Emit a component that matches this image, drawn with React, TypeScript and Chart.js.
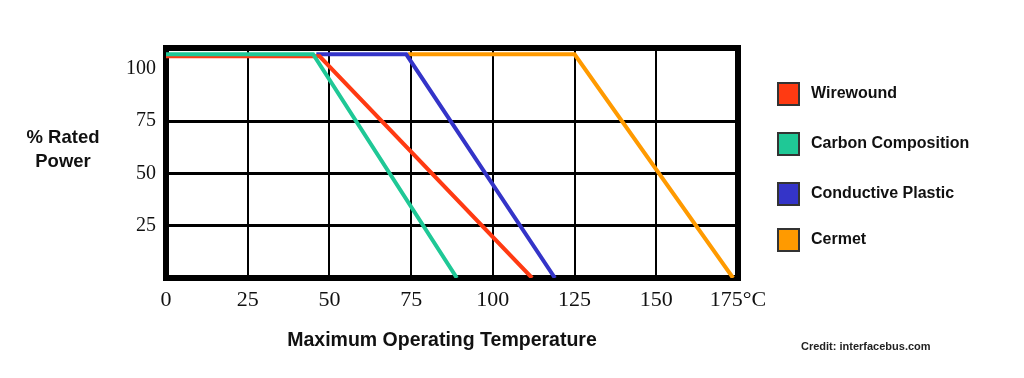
import React, { useEffect, useRef } from "react";
import { Chart, registerables } from "chart.js";

Chart.register(...registerables);

// ---- data ----
const seriesNames = ["Wirewound", "Carbon Composition", "Conductive Plastic", "Cermet"];
const seriesColors = ["#ff3a12", "#1fc896", "#3434c8", "#ff9a00"];

const wirewoundTemp = [0, 47, 112];
const wirewoundPower = [106, 106, 0];
const carbonTemp = [0, 45, 89];
const carbonPower = [107, 107, 0];
const conductiveTemp = [46, 73.5, 119];
const conductivePower = [107, 107, 0];
const cermetTemp = [74, 125, 173.5];
const cermetPower = [107, 107, 0];

const xTicks = [0, 25, 50, 75, 100, 125, 150, 175];
const xTickLabels = ["0", "25", "50", "75", "100", "125", "150", "175°C"];
const yTicks = [25, 50, 75, 100];
const yGridValues = [25, 50, 75];
const xGridValues = [25, 50, 75, 100, 125, 150];

const yTitleLines = ["% Rated", "Power"];
const xTitle = "Maximum Operating Temperature";
const credit = "Credit: interfacebus.com";

const toPoints = (xs: number[], ys: number[]) => xs.map((x, i) => ({ x, y: ys[i] }));

const SANS = '"Liberation Sans", Arial, sans-serif';
const SERIF = '"Liberation Serif", "Times New Roman", serif';

export default function App() {
  const canvasRef = useRef<HTMLCanvasElement | null>(null);

  useEffect(() => {
    if (!canvasRef.current) return;

    const frame = {
      id: "frame",
      beforeDatasetsDraw(chart: any) {
        const { ctx, chartArea } = chart;
        ctx.save();
        ctx.strokeStyle = "#000";
        ctx.lineWidth = 6;
        ctx.strokeRect(chartArea.left, chartArea.top, chartArea.right - chartArea.left, chartArea.bottom - chartArea.top);
        ctx.restore();
      },
    };

    const texts = {
      id: "texts",
      afterDraw(chart: any) {
        const { ctx } = chart;
        ctx.save();
        ctx.fillStyle = "#111";
        ctx.font = `bold 18.5px ${SANS}`;
        ctx.textAlign = "center";
        ctx.textBaseline = "alphabetic";
        ctx.fillText(yTitleLines[0], 55, 135);
        ctx.fillText(yTitleLines[1], 55, 159);
        ctx.font = `bold 19.5px ${SANS}`;
        ctx.fillText(xTitle, 434, 338);

        // legend
        const boxTops = [75, 125, 175, 221];
        ctx.font = `bold 16px ${SANS}`;
        ctx.textAlign = "left";
        ctx.textBaseline = "middle";
        seriesNames.forEach((name, i) => {
          const bx = 770;
          const by = boxTops[i];
          ctx.fillStyle = seriesColors[i];
          ctx.fillRect(bx, by, 21, 22);
          ctx.strokeStyle = "#333";
          ctx.lineWidth = 2;
          ctx.strokeRect(bx, by, 21, 22);
          ctx.fillStyle = "#111";
          ctx.fillText(name, 803, by + 11);
        });

        ctx.font = `bold 11px ${SANS}`;
        ctx.fillStyle = "#222";
        ctx.fillText(credit, 793, 339);
        ctx.restore();
      },
    };

    const chart = new Chart(canvasRef.current, {
      type: "line",
      data: {
        datasets: [
          { label: seriesNames[0], data: toPoints(wirewoundTemp, wirewoundPower), borderColor: seriesColors[0], order: 1 },
          { label: seriesNames[1], data: toPoints(carbonTemp, carbonPower), borderColor: seriesColors[1], order: 0 },
          { label: seriesNames[2], data: toPoints(conductiveTemp, conductivePower), borderColor: seriesColors[2], order: 2 },
          { label: seriesNames[3], data: toPoints(cermetTemp, cermetPower), borderColor: seriesColors[3], order: 3 },
        ],
      },
      options: {
        responsive: true,
        maintainAspectRatio: false,
        animation: false,
        layout: { padding: { left: 118, right: 278, top: 40, bottom: 52 } },
        elements: {
          point: { radius: 0 },
          line: { borderWidth: 4, tension: 0, fill: false },
        },
        plugins: {
          legend: { display: false },
          tooltip: { enabled: false },
        },
        scales: {
          x: {
            type: "linear",
            min: 0,
            max: 175,
            afterBuildTicks: (s: any) => {
              s.ticks = xTicks.map((v) => ({ value: v }));
            },
            afterFit: (s: any) => {
              s.height = 40;
            },
            border: { display: false },
            grid: {
              drawTicks: false,
              lineWidth: 2,
              color: (c: any) => (c.tick && xGridValues.includes(c.tick.value) ? "#000" : "rgba(0,0,0,0)"),
            },
            ticks: {
              autoSkip: false,
              maxRotation: 0,
              padding: 9,
              color: "#111",
              font: { family: SERIF, size: 22 },
              callback: (v: any) => {
                const i = xTicks.indexOf(Number(v));
                return i >= 0 ? xTickLabels[i] : "";
              },
            },
          },
          y: {
            type: "linear",
            min: 0,
            max: 110,
            afterBuildTicks: (s: any) => {
              s.ticks = yTicks.map((v) => ({ value: v }));
            },
            afterFit: (s: any) => {
              s.width = 40;
            },
            border: { display: false },
            grid: {
              drawTicks: false,
              lineWidth: 3,
              color: (c: any) => (c.tick && yGridValues.includes(c.tick.value) ? "#000" : "rgba(0,0,0,0)"),
            },
            ticks: {
              padding: 10,
              color: "#111",
              font: { family: SERIF, size: 20 },
            },
          },
        },
      },
      plugins: [frame, texts],
    } as any);

    return () => chart.destroy();
  }, []);

  return (
    <div style={{ position: "relative", width: "100%", height: 362 }}>
      <canvas ref={canvasRef} />
    </div>
  );
}
